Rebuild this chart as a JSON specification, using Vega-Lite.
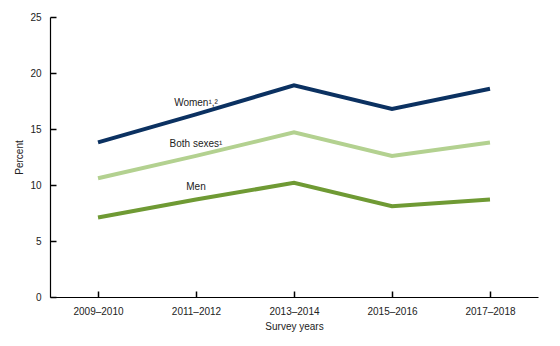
{
  "$schema": "https://vega.github.io/schema/vega-lite/v6.json",
  "width": 488,
  "height": 280,
  "autosize": {"type": "none"},
  "padding": {"left": 50, "top": 17, "right": 22, "bottom": 49},
  "background": "white",
  "config": {
    "view": {"stroke": null},
    "font": "Liberation Sans",
    "axis": {"grid": false, "domainColor": "#000", "tickColor": "#000", "labelColor": "#222", "titleColor": "#222", "labelFont": "Liberation Sans", "titleFont": "Liberation Sans", "labelFontSize": 10, "titleFontSize": 10, "titleFontWeight": "normal", "domainWidth": 1.2, "tickWidth": 1.2}
  },
  "resolve": {"axis": {"x": "independent", "y": "independent"}},
  "datasets": {
    "series": [
      {"period": "2009–2010", "group": "Women", "percent": 13.8},
      {"period": "2011–2012", "group": "Women", "percent": 16.3},
      {"period": "2013–2014", "group": "Women", "percent": 18.9},
      {"period": "2015–2016", "group": "Women", "percent": 16.8},
      {"period": "2017–2018", "group": "Women", "percent": 18.6},
      {"period": "2009–2010", "group": "Both sexes", "percent": 10.6},
      {"period": "2011–2012", "group": "Both sexes", "percent": 12.6},
      {"period": "2013–2014", "group": "Both sexes", "percent": 14.7},
      {"period": "2015–2016", "group": "Both sexes", "percent": 12.6},
      {"period": "2017–2018", "group": "Both sexes", "percent": 13.8},
      {"period": "2009–2010", "group": "Men", "percent": 7.1},
      {"period": "2011–2012", "group": "Men", "percent": 8.7},
      {"period": "2013–2014", "group": "Men", "percent": 10.2},
      {"period": "2015–2016", "group": "Men", "percent": 8.1},
      {"period": "2017–2018", "group": "Men", "percent": 8.7}
    ],
    "labels": [
      {"period": "2011–2012", "group": "Women", "label": "Women¹,²", "percent": 17.3},
      {"period": "2011–2012", "group": "Both sexes", "label": "Both sexes¹", "percent": 13.7},
      {"period": "2011–2012", "group": "Men", "label": "Men", "percent": 9.8}
    ]
  },
  "layer": [
    {
      "data": {"name": "series"},
      "mark": {"type": "line", "strokeWidth": 4, "strokeJoin": "miter"},
      "encoding": {
        "x": {"field": "period", "type": "ordinal", "sort": null, "scale": {"type": "point", "padding": 0.49},
              "axis": {"orient": "bottom", "title": "Survey years", "labelAngle": 0, "ticks": false, "labelPadding": 9, "titlePadding": 5}},
        "y": {"field": "percent", "type": "quantitative", "scale": {"domain": [0, 25], "nice": false, "zero": true},
              "axis": {"orient": "left", "title": "Percent", "values": [0, 5, 10, 15, 20, 25], "ticks": false, "labelPadding": 9, "titlePadding": 5}},
        "color": {"field": "group", "type": "nominal", "legend": null,
                  "scale": {"domain": ["Women", "Both sexes", "Men"], "range": ["#0b3161", "#b3d190", "#6f9a34"]}}
      }
    },
    {
      "data": {"name": "labels"},
      "mark": {"type": "text", "fontSize": 10, "color": "#222", "align": "center", "baseline": "middle"},
      "encoding": {
        "x": {"field": "period", "type": "ordinal", "sort": null,
              "axis": {"orient": "bottom", "offset": -6, "ticks": true, "tickSize": 6, "tickWidth": 1.5, "tickColor": "#000", "labels": false, "domain": false, "title": null}},
        "y": {"field": "percent", "type": "quantitative",
              "axis": {"orient": "left", "offset": -6, "ticks": true, "tickSize": 6, "tickWidth": 1.5, "tickColor": "#000", "values": [0, 5, 10, 15, 20, 25], "labels": false, "domain": false, "title": null}},
        "text": {"field": "label"}
      }
    }
  ]
}
